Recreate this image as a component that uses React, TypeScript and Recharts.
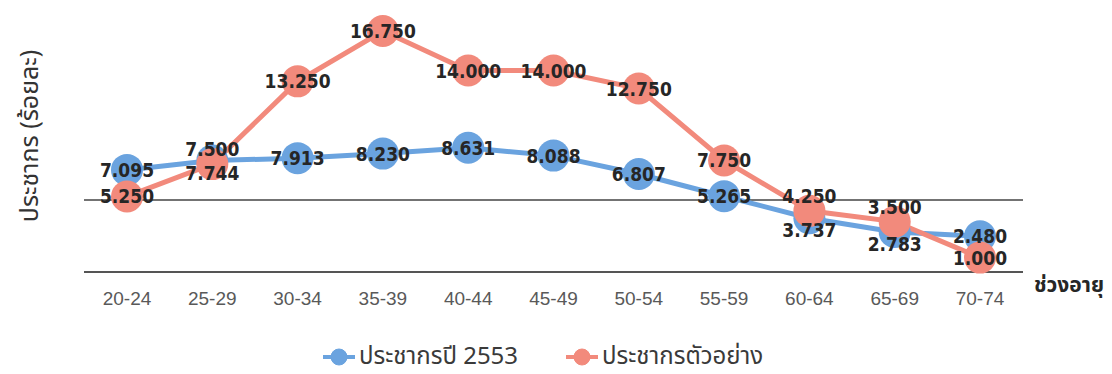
import React from 'react'
import { CartesianGrid, LabelList, Legend, Line, LineChart, ReferenceLine, XAxis, YAxis } from 'recharts'

// age groups on the x axis
const ageGroups = ['20-24', '25-29', '30-34', '35-39', '40-44', '45-49', '50-54', '55-59', '60-64', '65-69', '70-74']
// population of year 2553 (percent)
const pop2553 = [7.095, 7.744, 7.913, 8.23, 8.631, 8.088, 6.807, 5.265, 3.737, 2.783, 2.48]
// sample population (percent)
const samplePop = [5.25, 7.5, 13.25, 16.75, 14.0, 14.0, 12.75, 7.75, 4.25, 3.5, 1.0]
const yTicks = [0, 5, 10, 15]

const BLUE = '#6aa3df'
const RED = '#f28a7c'
const thaiFont = "'Noto Sans Thai', 'Noto Sans Thai UI', Tahoma, 'Noto Sans', sans-serif"
const labelFont = "'DejaVu Sans Condensed', 'DejaVu Sans', sans-serif"

const data = ageGroups.map((age, i) => ({ age, pop: pop2553[i], sample: samplePop[i] }))

// when the two values sit close together, push the red label up and the blue one down
const makeLabel = (series: 'pop' | 'sample') => (props: any) => {
  const { x, y, index, value } = props
  const row = data[index]
  let dy = 0
  if (Math.abs(row.sample - row.pop) < 1) dy = series === 'sample' ? -15 : 12
  return (
    <text x={x} y={y + dy} textAnchor="middle" dominantBaseline="central"
      fontFamily={labelFont} fontWeight="bold" fontSize={19} fill="#262626">
      {Number(value).toFixed(3)}
    </text>
  )
}

const LegendIcon = ({ color }: { color: string }) => (
  <svg width={34} height={20} style={{ marginRight: 3 }}>
    <line x1={1} y1={10} x2={33} y2={10} stroke={color} strokeWidth={4} />
    <circle cx={17} cy={10} r={8} fill={color} stroke={color} strokeWidth={1} />
  </svg>
)

const renderLegend = () => (
  <div style={{ display: 'flex', alignItems: 'center', height: 34, paddingLeft: 298,
    fontFamily: thaiFont, fontSize: 24, color: '#3a3a3a' }}>
    <span style={{ display: 'flex', alignItems: 'center', width: 243 }}>
      <LegendIcon color={BLUE} />ประชากรปี 2553
    </span>
    <span style={{ display: 'flex', alignItems: 'center' }}>
      <LegendIcon color={RED} />ประชากรตัวอย่าง
    </span>
  </div>
)

const App = () => {
  return (
    <LineChart width={1104} height={366} data={data} margin={{ top: 5, right: 89, bottom: 0, left: 16 }}>
      <CartesianGrid vertical={false} horizontalValues={[10]} stroke="#eeeeee" />
      <XAxis dataKey="age" height={68} padding={{ left: 43, right: 43 }} tickLine={false} tickSize={6} tickMargin={14}
        axisLine={{ stroke: '#555', strokeWidth: 2 }}
        tick={{ fill: '#595959', fontSize: 19, fontFamily: "'Liberation Sans', Arial, sans-serif" }}
        label={{
          content: (p: any) => (
            <text x={p.viewBox.x + p.viewBox.width + 11} y={p.viewBox.y + 13} dominantBaseline="central"
              fontFamily={thaiFont} fontWeight="bold" fontSize={21} fill="#262626">ช่วงอายุ</text>
          ),
        }} />
      <YAxis width={60} domain={[0, 18]} ticks={yTicks} tick={false} axisLine={false} tickLine={false}
        label={{
          content: () => (
            <text x={22} y={128} transform="rotate(-90 22 128)" textAnchor="middle" dominantBaseline="central"
              fontFamily={thaiFont} fontSize={25} fill="#333">ประชากร (ร้อยละ)</text>
          ),
        }} />
      <ReferenceLine y={5} stroke="#444" strokeWidth={1.5} />
      <Legend verticalAlign="bottom" height={34} content={renderLegend} />
      <Line dataKey="pop" stroke={BLUE} strokeWidth={5} isAnimationActive={false}
        dot={{ r: 16, fill: BLUE, stroke: 'none' }} activeDot={false} />
      <Line dataKey="sample" stroke={RED} strokeWidth={5} isAnimationActive={false}
        dot={{ r: 16, fill: RED, stroke: 'none' }} activeDot={false} />
      {/* label-only series so both sets of numbers draw above all circles */}
      <Line dataKey="pop" stroke="none" dot={false} activeDot={false} legendType="none" isAnimationActive={false}>
        <LabelList dataKey="pop" content={makeLabel('pop')} />
      </Line>
      <Line dataKey="sample" stroke="none" dot={false} activeDot={false} legendType="none" isAnimationActive={false}>
        <LabelList dataKey="sample" content={makeLabel('sample')} />
      </Line>
    </LineChart>
  )
}

export default App
